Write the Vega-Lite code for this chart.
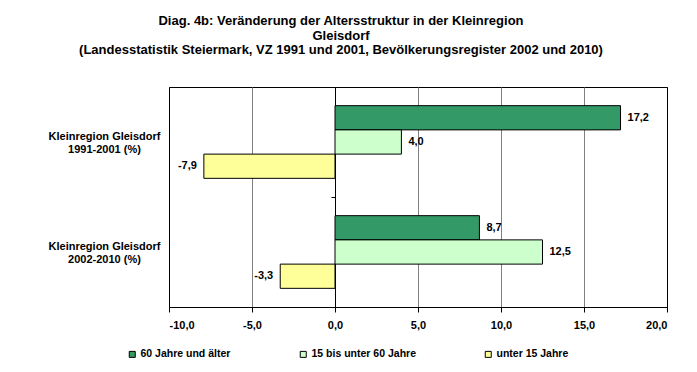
{
  "$schema": "https://vega.github.io/schema/vega-lite/v6.json",
  "width": 498,
  "height": 220,
  "autosize": "none",
  "padding": {"left": 169, "top": 87, "right": 30, "bottom": 65},
  "background": "white",
  "config": {
    "locale": {"number": {"decimal": ",", "thousands": ".", "grouping": [3], "currency": ["", " €"], "minus": "-"}},
    "font": "Liberation Sans",
    "view": {"stroke": "black", "strokeWidth": 1}
  },
  "title": {
    "text": ["Diag. 4b: Veränderung  der Altersstruktur  in der Kleinregion", "Gleisdorf", "(Landesstatistik  Steiermark, VZ 1991 und 2001, Bevölkerungsregister  2002 und 2010)"],
    "font": "Liberation Sans",
    "fontSize": 13,
    "fontWeight": "bold",
    "color": "black",
    "anchor": "middle",
    "frame": "group",
    "dx": -77,
    "offset": 24,
    "lineHeight": 14.5
  },
  "data": {
    "values": [
      {"region": "Kleinregion Gleisdorf|1991-2001 (%)", "group": "60 Jahre und älter", "value": 17.2},
      {"region": "Kleinregion Gleisdorf|1991-2001 (%)", "group": "15 bis unter 60 Jahre", "value": 4.0},
      {"region": "Kleinregion Gleisdorf|1991-2001 (%)", "group": "unter 15 Jahre", "value": -7.9},
      {"region": "Kleinregion Gleisdorf|2002-2010 (%)", "group": "60 Jahre und älter", "value": 8.7},
      {"region": "Kleinregion Gleisdorf|2002-2010 (%)", "group": "15 bis unter 60 Jahre", "value": 12.5},
      {"region": "Kleinregion Gleisdorf|2002-2010 (%)", "group": "unter 15 Jahre", "value": -3.3}
    ]
  },
  "encoding": {
    "y": {
      "field": "region",
      "type": "nominal",
      "sort": ["Kleinregion Gleisdorf|1991-2001 (%)", "Kleinregion Gleisdorf|2002-2010 (%)"],
      "scale": {"paddingInner": 0, "paddingOuter": 0},
      "axis": {
        "title": null,
        "offset": -166,
        "domainColor": "black",
        "tickColor": "black",
        "tickSize": 4,
        "tickBand": "extent",
        "grid": false,
        "labelPadding": 227,
        "labelAlign": "center",
        "labelBaseline": "middle",
        "labelOffset": -6,
        "labelExpr": "split(datum.label, '|')",
        "labelFont": "Liberation Sans",
        "labelFontSize": 11,
        "labelFontWeight": "bold",
        "labelColor": "black",
        "labelLineHeight": 13,
        "labelLimit": 0
      }
    },
    "yOffset": {
      "field": "group",
      "sort": ["60 Jahre und älter", "15 bis unter 60 Jahre", "unter 15 Jahre"],
      "scale": {"paddingInner": 0, "paddingOuter": 0.77}
    },
    "x": {
      "field": "value",
      "type": "quantitative",
      "scale": {"domain": [-10, 20], "nice": false, "zero": false},
      "axis": {
        "title": null,
        "values": [-10, -5, 0, 5, 10, 15, 20],
        "format": ".1f",
        "grid": true,
        "gridColor": {"condition": {"test": "datum.value == -10 || datum.value == 20 || datum.value == 0", "value": "black"}, "value": "#808080"},
        "gridOpacity": 1,
        "domainColor": "black",
        "tickColor": "black",
        "tickSize": 5,
        "labelPadding": 7,
        "labelFont": "Liberation Sans",
        "labelFontSize": 11,
        "labelFontWeight": "bold",
        "labelColor": "black"
      }
    }
  },
  "layer": [
    {
      "mark": {"type": "bar", "stroke": "black", "strokeWidth": 1},
      "encoding": {
        "color": {
          "field": "group",
          "type": "nominal",
          "scale": {"domain": ["60 Jahre und älter", "15 bis unter 60 Jahre", "unter 15 Jahre"], "range": ["#339966", "#CCFFCC", "#FFFF99"]},
          "legend": {
            "orient": "none",
            "legendX": -42,
            "legendY": 262,
            "direction": "horizontal",
            "title": null,
            "symbolType": "square",
            "symbolSize": 36,
            "symbolStrokeColor": "black",
            "symbolStrokeWidth": 1,
            "labelFont": "Liberation Sans",
            "labelFontSize": 10.5,
            "labelFontWeight": "bold",
            "labelColor": "black",
            "labelOffset": 3,
            "columnPadding": 67
          }
        }
      }
    },
    {
      "transform": [{"filter": "datum.value >= 0"}],
      "mark": {"type": "text", "align": "left", "baseline": "middle", "dx": 7, "font": "Liberation Sans", "fontSize": 11, "fontWeight": "bold", "color": "black"},
      "encoding": {"text": {"field": "value", "type": "quantitative", "format": ".1f"}}
    },
    {
      "transform": [{"filter": "datum.value < 0"}],
      "mark": {"type": "text", "align": "right", "baseline": "middle", "dx": -7, "font": "Liberation Sans", "fontSize": 11, "fontWeight": "bold", "color": "black"},
      "encoding": {"text": {"field": "value", "type": "quantitative", "format": ".1f"}}
    }
  ]
}
